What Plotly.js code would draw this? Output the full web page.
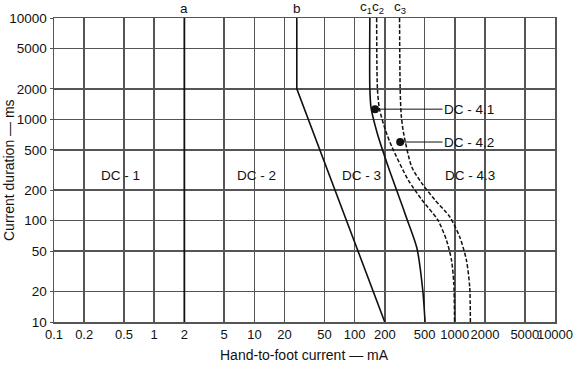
<!DOCTYPE html>
<html>
<head>
<meta charset="utf-8">
<script src="https://cdn.plot.ly/plotly-3.0.1.min.js"></script>
<style>html,body{margin:0;padding:0;background:#fff;}#chart{width:584px;height:367px;}</style>
</head>
<body>
<div id="chart"></div>
<script>
// Tick values
const xTicks = [0.1, 0.2, 0.5, 1, 2, 5, 10, 20, 50, 100, 200, 500, 1000, 2000, 5000, 10000];
const xTickText = ["0.1", "0.2", "0.5", "1", "2", "5", "10", "20", "50", "100", "200", "500", "1000", "2000", "5000", "10000"];
const yTicks = [10, 20, 50, 100, 200, 500, 1000, 2000, 5000, 10000];
const yTickText = ["10", "20", "50", "100", "200", "500", "1000", "2000", "5000", "10000"];

// Curve a (current, duration)
const aX = [2, 2];
const aY = [10, 10000];
// Curve b
const bX = [26.5, 26.5, 200];
const bY = [10000, 2000, 10];
// Curve c1 (solid)
const c1X = [142, 142, 146, 168, 217, 285, 327, 418, 479, 505];
const c1Y = [10000, 2000, 1294, 733, 338, 160, 109, 54, 20.6, 10];
// Curve c2 (dashed)
const c2X = [166, 169, 177, 203, 236, 343, 471, 679, 827, 927, 977, 995];
const c2Y = [10000, 2000, 1270, 784, 533, 252, 160, 101, 64, 40.8, 24.2, 10];
// Curve c3 (dashed)
const c3X = [281, 285, 292, 308, 372, 468, 634, 892, 1121, 1306, 1409, 1430];
const c3Y = [10000, 2000, 1100, 733, 338, 235, 160, 109, 68.9, 40.8, 22.1, 10];

// Curve labels above the plot
const curveLabels = ["a", "b", "c<sub>1</sub>", "c<sub>2</sub>", "c<sub>3</sub>"];
const curveLabelX = [2, 26.5, 131, 173, 282];

// Zone labels
const zoneLabels = ["DC - 1", "DC - 2", "DC - 3", "DC - 4.3"];
const zoneX = [0.456, 10.5, 116, 1408];
const zoneY = [282, 282, 282, 282];

// Pointed zone labels (dot, leader end)
const ptLabels = ["DC - 4.1", "DC - 4.2"];
const ptDotX = [160, 285];
const ptDotY = [1260, 597];
const ptEndX = [755, 755];

const black = '#111';
const traces = [
  {x: aX, y: aY, mode: 'lines', line: {color: black, width: 1.8}},
  {x: bX, y: bY, mode: 'lines', line: {color: black, width: 1.6}},
  {x: c1X, y: c1Y, mode: 'lines', line: {color: black, width: 1.6, shape: 'spline', smoothing: 0.7}},
  {x: c2X, y: c2Y, mode: 'lines', line: {color: black, width: 1.5, dash: '4px,2px', shape: 'spline', smoothing: 0.7}},
  {x: c3X, y: c3Y, mode: 'lines', line: {color: black, width: 1.5, dash: '4px,2px', shape: 'spline', smoothing: 0.7}}
];
ptLabels.forEach((t, i) => {
  traces.push({x: [ptDotX[i], ptEndX[i]], y: [ptDotY[i], ptDotY[i]], mode: 'lines', line: {color: black, width: 1}});
  traces.push({x: [ptDotX[i]], y: [ptDotY[i]], mode: 'markers', marker: {color: black, size: 8}});
});

const font = {family: 'Liberation Sans, Arial, sans-serif', size: 13.5, color: '#111'};
const xFont = Object.assign({}, font, {size: 13});
const annotations = [];
curveLabels.forEach((t, i) => annotations.push({
  x: Math.log10(curveLabelX[i]), xref: 'x', y: 1, yref: 'paper', yanchor: 'bottom', xanchor: 'center',
  text: t, showarrow: false, font: font
}));
zoneLabels.forEach((t, i) => annotations.push({
  x: Math.log10(zoneX[i]), y: Math.log10(zoneY[i]), xref: 'x', yref: 'y', text: t, showarrow: false, font: font
}));
ptLabels.forEach((t, i) => annotations.push({
  x: Math.log10(ptEndX[i]), y: Math.log10(ptDotY[i]), xref: 'x', yref: 'y', xanchor: 'left', text: t,
  showarrow: false, font: font, borderpad: 0
}));
annotations.push({x: 0.5, y: 0, xref: 'paper', yref: 'paper', yanchor: 'middle', yshift: -33,
  text: 'Hand-to-foot current — mA', showarrow: false, font: Object.assign({}, font, {size: 14})});
annotations.push({x: 0, y: 0.5, xref: 'paper', yref: 'paper', xanchor: 'center', xshift: -45, textangle: -90,
  text: 'Current duration — ms', showarrow: false, font: Object.assign({}, font, {size: 14})});

const gridCol = '#555';
const layout = {
  width: 584, height: 367,
  margin: {l: 54, r: 29, t: 18, b: 45},
  paper_bgcolor: '#fff', plot_bgcolor: '#fff',
  showlegend: false,
  font: font,
  xaxis: {type: 'log', range: [-1, 4.0001], tickmode: 'array', tickvals: xTicks, ticktext: xTickText, tickangle: 0,
    showgrid: true, gridcolor: gridCol, gridwidth: 1.5, showline: true, linecolor: gridCol, linewidth: 1.5,
    mirror: true, ticks: '', zeroline: false, automargin: false, tickfont: xFont},
  yaxis: {type: 'log', range: [1, 4], tickmode: 'array', tickvals: yTicks, ticktext: yTickText,
    showgrid: true, gridcolor: gridCol, gridwidth: 1.5, showline: true, linecolor: gridCol, linewidth: 1.5,
    mirror: true, ticks: 'outside', ticklen: 3, tickcolor: gridCol, zeroline: false, automargin: false, tickfont: font},
  annotations: annotations
};
Plotly.newPlot('chart', traces, layout, {displayModeBar: false, staticPlot: true});
</script>
</body>
</html>
